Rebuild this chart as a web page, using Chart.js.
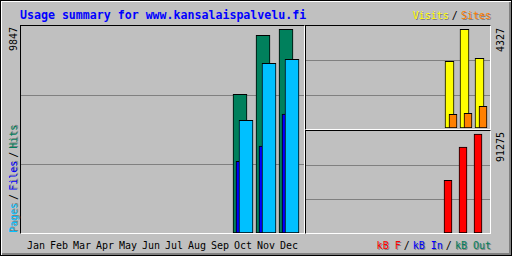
<!DOCTYPE html>
<html lang="en">
<head>
<meta charset="UTF-8">
<title>Usage summary for www.kansalaispalvelu.fi</title>
<script src="https://cdn.jsdelivr.net/npm/chart.js@4"></script>
<style>
  html, body { margin: 0; padding: 0; }
  #page { position: relative; width: 512px; height: 256px; background: #c0c0c0; overflow: hidden;
          font-family: 'DejaVu Sans Mono', monospace; font-size: 10px; line-height: 10px; }
  #edge { position: absolute; left: 0; top: 0; width: 512px; height: 256px; box-sizing: border-box;
          border: 1px solid #000; box-shadow: inset 1px 1px 0 #fff, inset -2px -2px 0 #808080; }
  .box { position: absolute; box-sizing: border-box; border-top: 1px solid #000; border-left: 1px solid #000;
         border-right: 1px solid #fff; border-bottom: 1px solid #fff; }
  .box canvas { display: block; }
  #mainBox  { left: 20px;  top: 25px;  width: 285px; height: 209px; }
  #visitBox { left: 305px; top: 25px;  width: 186px; height: 105px; }
  #kbBox    { left: 305px; top: 130px; width: 186px; height: 104px; }
  .txt { position: absolute; white-space: nowrap; }
  .up { transform-origin: 0 0; transform: rotate(-90deg); }
  #title { left: 20px; top: 9px; color: #0000ff; font-weight: bold; font-size: 11.6px; line-height: 12px; }
  .sh { text-shadow: 1px 1px 0 #808080; }
  .sep { margin: 0 3px; color: #000; }
</style>
</head>
<body>
<div id="page">
  <div id="edge"></div>
  <div id="title" class="txt">Usage summary for www.kansalaispalvelu.fi</div>
  <div class="txt" style="right: 21px; top: 11px;"><span class="sh" style="color:#ffff00">Visits</span><span class="sep">/</span><span class="sh" style="color:#ff8000">Sites</span></div>

  <div id="mainBox" class="box"><canvas id="mainChart" width="283" height="207"></canvas></div>
  <div id="visitBox" class="box"><canvas id="visitChart" width="184" height="103"></canvas></div>
  <div id="kbBox" class="box"><canvas id="kbChart" width="184" height="102"></canvas></div>

  <div id="hitsMax" class="txt up" style="left: 9px; top: 51px;"></div>
  <div class="txt up" style="left: 9px; top: 233px;"><span class="sh" style="color:#00c0ff">Pages</span><span class="sep">/</span><span class="sh" style="color:#0000ff">Files</span><span class="sep">/</span><span class="sh" style="color:#00805c">Hits</span></div>
  <div id="visitsMax" class="txt up" style="left: 496px; top: 52px;"></div>
  <div id="kbMax" class="txt up" style="left: 496px; top: 162px;"></div>

  <div id="monthLabels"></div>
  <div class="txt" style="right: 21px; top: 241px;"><span class="sh" style="color:#ff0000">kB F</span><span class="sep">/</span><span class="sh" style="color:#0000ff">kB In</span><span class="sep">/</span><span class="sh" style="color:#00805c">kB Out</span></div>
</div>

<script>
const months = ['Jan', 'Feb', 'Mar', 'Apr', 'May', 'Jun', 'Jul', 'Aug', 'Sep', 'Oct', 'Nov', 'Dec'];
const hits   = [0, 0, 0, 0, 0, 0, 0, 0, 0, 6705, 9555, 9847];
const files  = [0, 0, 0, 0, 0, 0, 0, 0, 0, 3465, 4205, 5751];
const pages  = [0, 0, 0, 0, 0, 0, 0, 0, 0, 5447, 8202, 8395];
const visits = [0, 0, 0, 0, 0, 0, 0, 0, 0, 2924, 4327, 3056];
const sites  = [0, 0, 0, 0, 0, 0, 0, 0, 0, 601, 644, 951];
const kbytes = [0, 0, 0, 0, 0, 0, 0, 0, 0, 48588, 79290, 91275];

// the scale max labels come straight from the data
document.getElementById('hitsMax').textContent = Math.max(...hits);
document.getElementById('visitsMax').textContent = Math.max(...visits);
document.getElementById('kbMax').textContent = Math.max(...kbytes);

// month names under the main graph, one per 23px slot
const labelBox = document.getElementById('monthLabels');
months.forEach((m, i) => {
    const d = document.createElement('div');
    d.className = 'txt';
    d.style.left = (27 + 23 * i) + 'px';
    d.style.top = '241px';
    d.textContent = m;
    labelBox.appendChild(d);
});

// grey lines at a third and two thirds of each box
const thirdsGrid = {
    id: 'thirdsGrid',
    beforeDatasetsDraw(chart) {
        const ctx = chart.ctx;
        ctx.save();
        ctx.strokeStyle = '#808080';
        ctx.lineWidth = 1;
        [1, 2].forEach(k => {
            const y = Math.round(chart.height * k / 3) + 0.5;
            ctx.beginPath();
            ctx.moveTo(0, y);
            ctx.lineTo(chart.width, y);
            ctx.stroke();
        });
        ctx.restore();
    }
};

// linear month axis: month i lands at pixel center + i * stride
function monthAxis(width, stride, center) {
    return { type: 'linear', display: false, offset: false, min: -center / stride, max: (width - center) / stride };
}

function series(values, color, axisId, width, order) {
    return {
        data: values.map((v, i) => ({ x: i, y: v })),
        xAxisID: axisId,
        backgroundColor: color,
        borderColor: '#000',
        borderWidth: 1,
        borderSkipped: false,
        barThickness: width,
        grouped: false,
        order: order
    };
}

function barChart(id, datasets, xScales, yMax, padBottom) {
    const scales = Object.assign({ y: { display: false, min: 0, max: yMax } }, xScales);
    new Chart(document.getElementById(id), {
        type: 'bar',
        data: { datasets: datasets },
        options: {
            responsive: false,
            animation: false,
            events: [],
            layout: { padding: { left: 0, right: 0, top: 0, bottom: padBottom } },
            plugins: { legend: { display: false }, tooltip: { enabled: false } },
            scales: scales
        },
        plugins: [thirdsGrid]
    });
}

// Hits / Files / Pages
barChart('mainChart', [
    series(hits, '#00805c', 'xHits', 14, 3),
    series(files, '#0000ff', 'xFiles', 14, 2),
    series(pages, '#00c0ff', 'xPages', 14, 1)
], {
    xHits: monthAxis(283, 23, 12),
    xFiles: monthAxis(283, 23, 15),
    xPages: monthAxis(283, 23, 18)
}, Math.max(...hits) * 1.016, 0);

// Visits / Sites
barChart('visitChart', [
    series(visits, '#ffff00', 'xVisits', 9, 2),
    series(sites, '#ff8000', 'xSites', 8, 1)
], {
    xVisits: monthAxis(184, 15, 8.5),
    xSites: monthAxis(184, 15, 12)
}, Math.max(...visits) * 1.033, 1);

// kB
barChart('kbChart', [
    series(kbytes, '#ff0000', 'xKb', 8, 1)
], {
    xKb: monthAxis(184, 15, 7)
}, Math.max(...kbytes) * 1.03, 0);
</script>
</body>
</html>
